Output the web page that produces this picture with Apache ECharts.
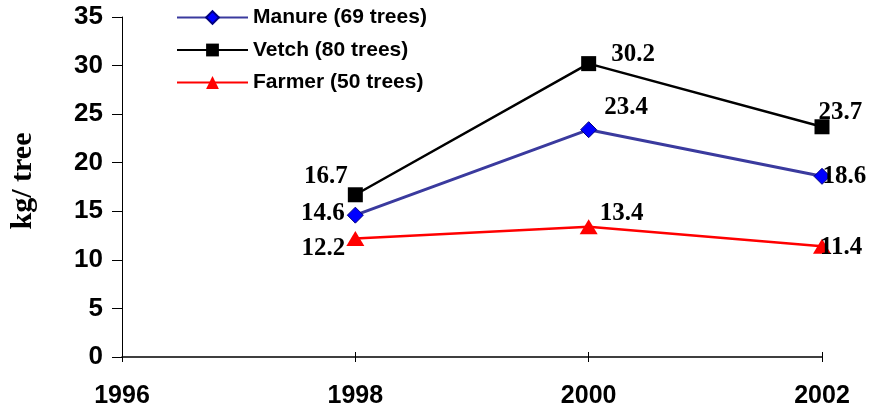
<!DOCTYPE html>
<html>
<head>
<meta charset="utf-8">
<script src="https://cdn.jsdelivr.net/npm/echarts@6/dist/echarts.min.js"></script>
<style>
  html, body { margin: 0; padding: 0; background: #fff; }
  #chart { width: 871px; height: 414px; }
</style>
</head>
<body>
<div id="chart"></div>
<script>
// data
var years = [1998, 2000, 2002];
var manure = [14.6, 23.4, 18.6];
var vetch = [16.7, 30.2, 23.7];
var farmer = [12.2, 13.4, 11.4];
var seriesNames = ["Manure (69 trees)", "Vetch (80 trees)", "Farmer (50 trees)"];

// where each value label sits, per series and per year
var labelPlaces = {
  manure: [{ position: "left", offset: [1, -2] }, { position: "right", offset: [4, -22] }, { position: "right", offset: [-11, 0] }],
  vetch: [{ position: "left", offset: [3, -18] }, { position: "right", offset: [12, -9] }, { position: "right", offset: [-14, -14] }],
  farmer: [{ position: "left", offset: [2, 10] }, { position: "right", offset: [-1, -13] }, { position: "right", offset: [-14, 1] }]
};

function build(values, places) {
  return values.map(function (v, i) {
    return { value: [years[i], v], label: places[i] };
  });
}

var labelFont = {
  show: true,
  fontFamily: "Liberation Serif",
  fontWeight: "bold",
  fontSize: 25,
  color: "#000",
  distance: 3
};

var chart = echarts.init(document.getElementById("chart"));

var option = {
  animation: false,
  grid: { left: 122, right: 49, top: 17, bottom: 57, outerBoundsMode: "none", containLabel: false },
  legend: {
    orient: "vertical",
    left: 171,
    top: 2,
    itemWidth: 71,
    itemHeight: 16,
    itemGap: 11.5,
    data: seriesNames,
    textStyle: { fontFamily: "Liberation Sans", fontWeight: "bold", fontSize: 21, lineHeight: 21, color: "#000" }
  },
  xAxis: [
    {
      type: "value",
      min: 1996,
      max: 2002,
      interval: 2,
      splitLine: { show: false },
      axisLine: { show: true, onZero: false, lineStyle: { color: "#000", width: 1.5 } },
      axisTick: { show: true, length: 5, lineStyle: { color: "#000" } },
      axisLabel: {
        margin: 27,
        fontFamily: "Liberation Sans",
        fontWeight: "bold",
        fontSize: 25,
        color: "#000",
        formatter: function (v) { return String(v); }
      }
    },
    {
      type: "value",
      position: "bottom",
      min: 1996,
      max: 2002,
      interval: 2,
      splitLine: { show: false },
      axisLine: { show: false },
      axisTick: { show: true, inside: true, length: 5, lineStyle: { color: "#000" } },
      axisLabel: { show: false }
    }
  ],
  yAxis: {
    type: "value",
    min: 0,
    max: 35,
    interval: 5,
    name: "kg/ tree",
    nameLocation: "middle",
    nameGap: 84,
    nameTextStyle: { fontFamily: "Liberation Serif", fontWeight: "bold", fontSize: 30, color: "#000", padding: [0, 0, 0, 12] },
    splitLine: { show: false },
    axisLine: { show: true, lineStyle: { color: "#000", width: 1 } },
    axisTick: { show: true, length: 10, lineStyle: { color: "#000" } },
    axisLabel: {
      margin: 19,
      fontFamily: "Liberation Sans",
      fontWeight: "bold",
      fontSize: 26,
      color: "#000"
    }
  },
  series: [
    {
      name: seriesNames[0],
      type: "line",
      data: build(manure, labelPlaces.manure),
      symbol: "diamond",
      symbolSize: 16,
      itemStyle: { color: "#0000ff", borderColor: "#000080", borderWidth: 1 },
      lineStyle: { color: "#3a3a9e", width: 3 },
      label: labelFont,
      z: 3
    },
    {
      name: seriesNames[1],
      type: "line",
      data: build(vetch, labelPlaces.vetch),
      symbol: "rect",
      symbolSize: 15,
      itemStyle: { color: "#000" },
      lineStyle: { color: "#000", width: 2.5 },
      label: labelFont,
      z: 2
    },
    {
      name: seriesNames[2],
      type: "line",
      data: build(farmer, labelPlaces.farmer),
      symbol: "triangle",
      symbolSize: [18, 15],
      itemStyle: { color: "#ff0000" },
      lineStyle: { color: "#ff0000", width: 2.5 },
      label: labelFont,
      z: 4
    }
  ]
};

chart.setOption(option);
</script>
</body>
</html>
